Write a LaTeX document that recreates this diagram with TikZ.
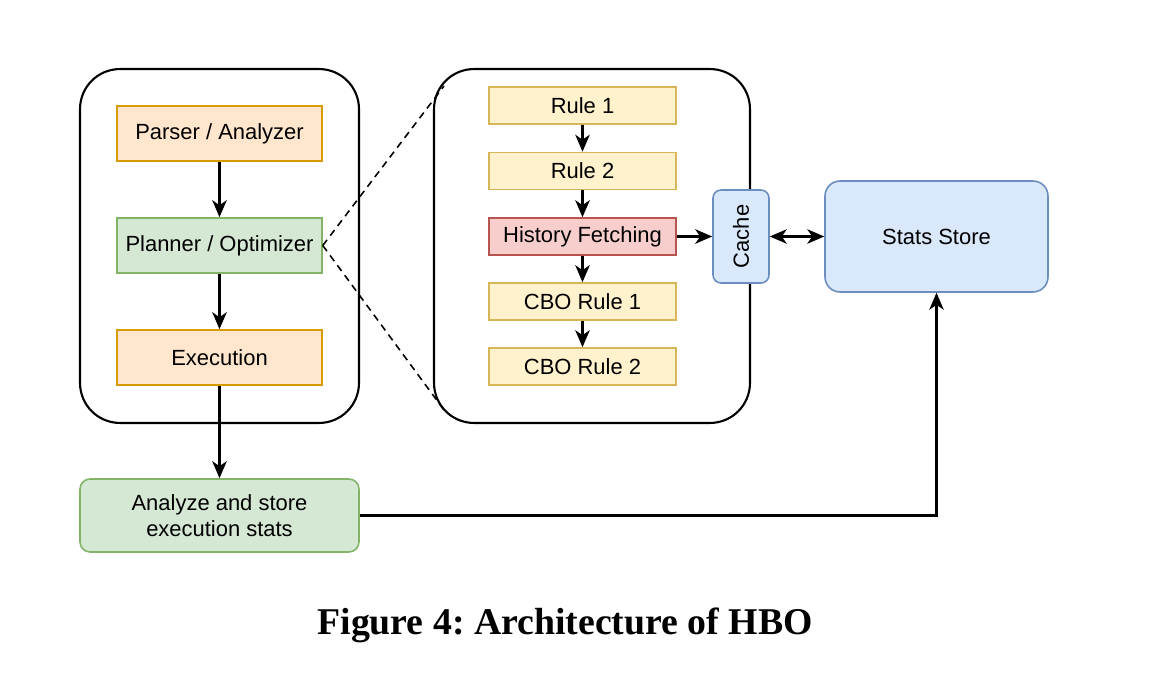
\documentclass[tikz,border=0pt]{standalone}
\usepackage{fontspec}
\setmainfont{Liberation Sans}
\newfontfamily\capfont{Liberation Serif}
\usetikzlibrary{arrows.meta,positioning}
\definecolor{orfill}{HTML}{FFE6CC}\definecolor{ordraw}{HTML}{D79B00}
\definecolor{grfill}{HTML}{D5E8D4}\definecolor{grdraw}{HTML}{82B366}
\definecolor{yefill}{HTML}{FFF2CC}\definecolor{yedraw}{HTML}{D6B656}
\definecolor{rdfill}{HTML}{F8CECC}\definecolor{rddraw}{HTML}{B85450}
\definecolor{blfill}{HTML}{DAE8FC}\definecolor{bldraw}{HTML}{6C8EBF}
\tikzset{
  box/.style={draw, line width=0.9pt, inner sep=0pt, font=\fontsize{12.5}{15}\selectfont, align=center},
  bigbox/.style={box, minimum width=4.1cm, minimum height=1.1cm},
  rulebox/.style={box, minimum width=3.74cm, minimum height=0.74cm, fill=yefill, draw=yedraw},
  container/.style={draw, line width=1.2pt, rounded corners=0.8cm, minimum width=#1, minimum height=7.08cm},
  tip/.tip={Stealth[length=3.4mm,width=2.9mm,inset=1mm]},
  arr/.style={line width=1.2pt, -tip},
  darr/.style={line width=1.2pt, tip-tip},
  zoomline/.style={line width=0.9pt, dash pattern=on 4pt off 3pt}
}
\begin{document}
\begin{tikzpicture}[x=0.02cm,y=-0.02cm]
\useasboundingbox (0,0) rectangle (1156,686);
% containers
\node[container=5.58cm] (L) at (219.5,246) {};
\node[container=6.32cm] (R) at (592,246) {};
% left column
\node[bigbox, fill=orfill, draw=ordraw] (parser) at (219.5,133.5) {Parser / Analyzer};
\node[bigbox, fill=grfill, draw=grdraw] (planner) at (219.5,245.5) {Planner / Optimizer};
\node[bigbox, fill=orfill, draw=ordraw] (exec) at (219.5,357.5) {Execution};
\node[box, fill=grfill, draw=grdraw, rounded corners=0.2cm, minimum width=5.58cm, minimum height=1.46cm] (analyze) at (219.5,515.5) {Analyze and store\\execution stats};
% right column
\node[rulebox] (r1) at (582.5,105.5) {Rule 1};
\node[rulebox] (r2) at (582.5,171) {Rule 2};
\node[rulebox, fill=rdfill, draw=rddraw] (hist) at (582.5,236.5) {History Fetching};
\node[rulebox] (c1) at (582.5,301.5) {CBO Rule 1};
\node[rulebox] (c2) at (582.5,366.5) {CBO Rule 2};
\node[box, fill=blfill, draw=bldraw, rounded corners=0.16cm, minimum width=1.12cm, minimum height=1.86cm] (cache) at (741,236.5) {\rotatebox{90}{Cache}};
\node[box, fill=blfill, draw=bldraw, rounded corners=0.3cm, minimum width=4.46cm, minimum height=2.22cm] (stats) at (936.5,236.5) {Stats Store};
% dashed zoom lines
\coordinate (zt) at (444,86);
\coordinate (zb) at (444,410);
\draw[zoomline] (planner.east) -- (zt);
\draw[zoomline] (planner.east) -- (zb);
% arrows
\draw[arr] (parser) -- (planner);
\draw[arr] (planner) -- (exec);
\draw[arr] (exec) -- (analyze);
\draw[arr] (r1) -- (r2);
\draw[arr] (r2) -- (hist);
\draw[arr] (hist) -- (c1);
\draw[arr] (c1) -- (c2);
\draw[arr] (hist) -- (cache);
\draw[darr] (cache) -- (stats);
\draw[arr] (analyze.east) -| (stats.south);
% caption
\node[font=\capfont\bfseries\fontsize{21.5}{26}\selectfont] (cap) at (565,625) {\frenchspacing Figure 4: Architecture of HBO};
\end{tikzpicture}
\end{document}
